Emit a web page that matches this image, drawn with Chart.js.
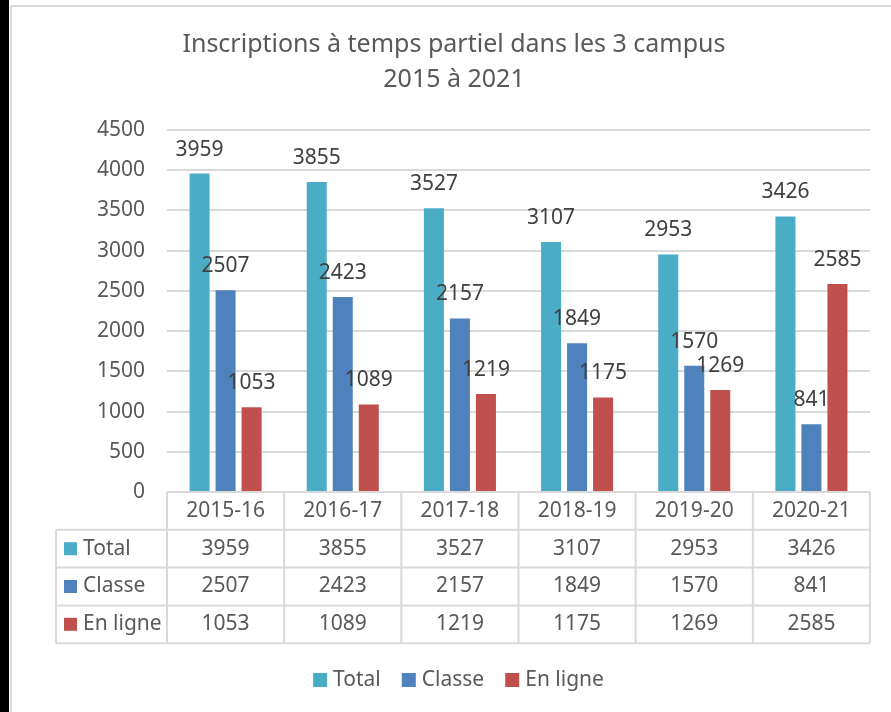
<!DOCTYPE html>
<html>
<head>
<meta charset="utf-8">
<script src="https://cdn.jsdelivr.net/npm/chart.js@4.4.1/dist/chart.umd.min.js"></script>
<style>
  html, body { margin: 0; padding: 0; background: #fff; }
  #wrap { position: relative; width: 891px; height: 712px; }
</style>
</head>
<body>
<div id="wrap"><canvas id="chart" width="891" height="712"></canvas></div>
<script>
"use strict";

// ── Data ────────────────────────────────────────────────────────────────────
const CATEGORIES = ["2015-16", "2016-17", "2017-18", "2018-19", "2019-20", "2020-21"];
const TOTAL      = [3959, 3855, 3527, 3107, 2953, 3426];
const CLASSE     = [2507, 2423, 2157, 1849, 1570, 841];
const EN_LIGNE   = [1053, 1089, 1219, 1175, 1269, 2585];
const SERIES     = ["Total", "Classe", "En ligne"];
const COLORS     = ["#4BACC6", "#4F81BD", "#C0504D"];
const TITLE      = ["Inscriptions à temps partiel dans les 3 campus", "2015 à 2021"];

const FONT = "'Noto Sans', 'Open Sans', sans-serif";
const TEXT = "#595959";
const GRID = "#d9d9d9";

// ── Plugins ─────────────────────────────────────────────────────────────────
const background = {
  id: "background",
  beforeDraw(chart) {
    const ctx = chart.ctx;
    ctx.save();
    ctx.fillStyle = "#fff";
    ctx.fillRect(0, 0, chart.width, chart.height);
    ctx.fillStyle = "#000";
    ctx.fillRect(0, 0, 9, chart.height);
    ctx.strokeStyle = GRID;
    ctx.lineWidth = 2;
    ctx.beginPath();
    ctx.moveTo(11, chart.height);
    ctx.lineTo(11, 6);
    ctx.lineTo(chart.width, 6);
    ctx.stroke();

    // title, centred a bit right of the canvas middle like the original
    ctx.font = `25px ${FONT}`;
    ctx.fillStyle = TEXT;
    ctx.textAlign = "center";
    ctx.textBaseline = "middle";
    ctx.fillText(TITLE[0], 454, 45);
    ctx.fillText(TITLE[1], 454, 80);
    ctx.restore();
  },
};

const barLabels = {
  id: "barLabels",
  afterDatasetsDraw(chart) {
    const ctx = chart.ctx;
    ctx.save();
    ctx.font = `21px ${FONT}`;
    ctx.fillStyle = "#404040";
    ctx.textAlign = "center";
    ctx.textBaseline = "middle";
    chart.data.datasets.forEach((ds, i) => {
      chart.getDatasetMeta(i).data.forEach((bar, j) => {
        ctx.fillText(String(ds.data[j]), bar.x, bar.y - 24);
      });
    });
    ctx.restore();
  },
};

const dataTable = {
  id: "dataTable",
  afterDraw(chart) {
    const ctx = chart.ctx;
    const area = chart.chartArea;
    const xs = chart.scales.x;
    const n = CATEGORIES.length;
    const colW = (area.right - area.left) / n;
    const rowH = 37.8;
    const top = area.bottom;
    const leftX = 56;
    const rows = [TOTAL, CLASSE, EN_LIGNE];

    ctx.save();
    ctx.strokeStyle = GRID;
    ctx.lineWidth = 2;
    ctx.beginPath();
    ctx.moveTo(area.left, top);
    ctx.lineTo(area.right, top);
    for (let r = 1; r <= 4; r++) {
      ctx.moveTo(leftX, top + r * rowH);
      ctx.lineTo(area.right, top + r * rowH);
    }
    for (let k = 0; k <= n; k++) {
      const x = area.left + k * colW;
      ctx.moveTo(x, top);
      ctx.lineTo(x, top + 4 * rowH);
    }
    ctx.moveTo(leftX, top + rowH);
    ctx.lineTo(leftX, top + 4 * rowH);
    ctx.stroke();

    ctx.font = `21px ${FONT}`;
    ctx.fillStyle = TEXT;
    ctx.textAlign = "center";
    ctx.textBaseline = "middle";
    CATEGORIES.forEach((c, i) => {
      ctx.fillText(c, xs.getPixelForValue(i), top + rowH / 2);
    });
    rows.forEach((vals, r) => {
      const y = top + (r + 1.5) * rowH;
      vals.forEach((v, i) => {
        ctx.fillText(String(v), xs.getPixelForValue(i), y);
      });
    });

    ctx.textAlign = "left";
    SERIES.forEach((name, r) => {
      const y = top + (r + 1.5) * rowH;
      ctx.fillStyle = COLORS[r];
      ctx.fillRect(64, y - 6.5, 13, 13);
      ctx.fillStyle = TEXT;
      ctx.fillText(name, 83, y);
    });

    // legend under the table
    const box = 14, gap = 6, space = 21, ly = 680;
    const widths = SERIES.map(s => box + gap + ctx.measureText(s).width);
    const total = widths.reduce((a, b) => a + b, 0) + space * (SERIES.length - 1);
    let lx = 458.5 - total / 2;
    SERIES.forEach((name, i) => {
      ctx.fillStyle = COLORS[i];
      ctx.fillRect(lx, ly - box / 2, box, box);
      ctx.fillStyle = TEXT;
      ctx.fillText(name, lx + box + gap, ly);
      lx += widths[i] + space;
    });
    ctx.restore();
  },
};

// ── Chart ───────────────────────────────────────────────────────────────────
const ctx = document.getElementById("chart").getContext("2d");
new Chart(ctx, {
  type: "bar",
  data: {
    labels: CATEGORIES,
    datasets: [TOTAL, CLASSE, EN_LIGNE].map((vals, i) => ({
      label: SERIES[i],
      data: vals,
      backgroundColor: COLORS[i],
      borderWidth: 0,
      categoryPercentage: 0.666,
      barPercentage: 0.77,
    })),
  },
  options: {
    responsive: false,
    animation: false,
    layout: { padding: { left: 0, right: 21, top: 130, bottom: 60 } },
    scales: {
      x: {
        grid: { display: false },
        border: { display: false },
        ticks: { display: false },
        afterFit: s => { s.height = 160; },
      },
      y: {
        min: 0,
        max: 4500,
        ticks: {
          stepSize: 500,
          padding: 22,
          color: TEXT,
          font: { family: FONT, size: 21 },
          callback: v => String(v),
        },
        grid: { color: GRID, lineWidth: 2, drawTicks: false },
        border: { display: false },
        afterFit: s => { s.width = 167; },
      },
    },
    plugins: {
      title: { display: false },
      legend: { display: false },
      tooltip: { enabled: false },
    },
  },
  plugins: [background, barLabels, dataTable],
});
</script>
</body>
</html>
